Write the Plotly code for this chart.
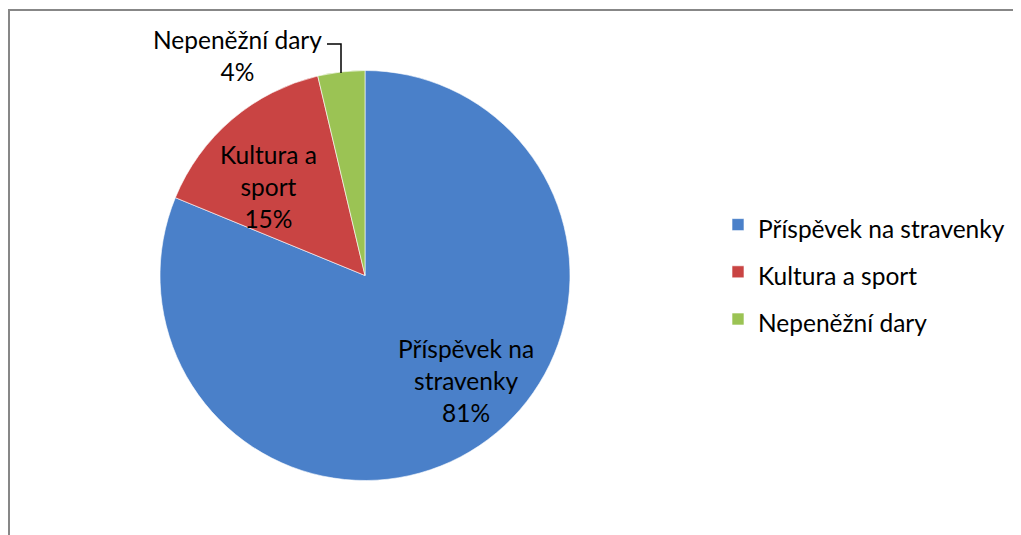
import plotly.graph_objects as go

categories = ["Příspěvek na stravenky", "Kultura a sport", "Nepeněžní dary"]
values = [81.2, 15.1, 3.7]
label_lines = ["Příspěvek na<br>stravenky", "Kultura a<br>sport", "Nepeněžní dary"]
colors = ["#4A80C9", "#C94443", "#9BC354"]

FONT = "Lato"
TXT = 24.5

W, H = 1021, 535
OFF = 8  # page body margin


def px(x):
    return (x - OFF) / W


def py(y):
    return 1 - (y - OFF) / H


total = sum(values)
pcts = [round(v / total * 100) for v in values]
legend_labels = [f"<span style='font-size:{TXT}px'>{c}</span>" for c in categories]

fig = go.Figure(go.Pie(
    labels=legend_labels,
    values=values,
    textinfo="none",
    sort=False,
    direction="clockwise",
    rotation=0,
    marker=dict(colors=colors, line=dict(color="rgba(255,255,255,0.6)", width=1)),
    domain=dict(x=[px(160), px(570)], y=[py(480.5), py(70.5)]),
    hovertext=categories,
    hoverinfo="text+percent",
))

# data labels (category + percent) placed like the original chart
label_pos = [(466, 380), (268, 186), (237, 56)]
for (lx, ly), txt, p in zip(label_pos, label_lines, pcts):
    fig.add_annotation(
        x=px(lx), y=py(ly), xref="paper", yref="paper", xanchor="center", yanchor="middle",
        text=f"{txt}<br>{p}%", showarrow=False,
        font=dict(family=FONT, size=TXT, color="#000000"), align="center",
    )

# leader line for the small slice label
fig.add_shape(type="path", xref="paper", yref="paper",
              path=f"M {px(327)} {py(44)} L {px(341)} {py(44)} L {px(341)} {py(73)}",
              line=dict(color="#000000", width=1.5))

# chart frame (top and left edges visible)
fig.add_shape(type="line", xref="paper", yref="paper",
              x0=px(8), x1=1.0, y0=py(10), y1=py(10),
              line=dict(color="#878787", width=2))
fig.add_shape(type="line", xref="paper", yref="paper",
              x0=px(9), x1=px(9), y0=py(10), y1=0,
              line=dict(color="#878787", width=2))

fig.update_layout(
    width=W, height=H,
    margin=dict(l=0, r=0, t=0, b=0),
    paper_bgcolor="white", plot_bgcolor="white",
    showlegend=True,
    legend=dict(x=px(718), y=py(196), xanchor="left", yanchor="top",
                font=dict(family=FONT, size=34, color="#000000"),
                bgcolor="rgba(0,0,0,0)"),
    font=dict(family=FONT),
)

fig.write_html("out.html")
